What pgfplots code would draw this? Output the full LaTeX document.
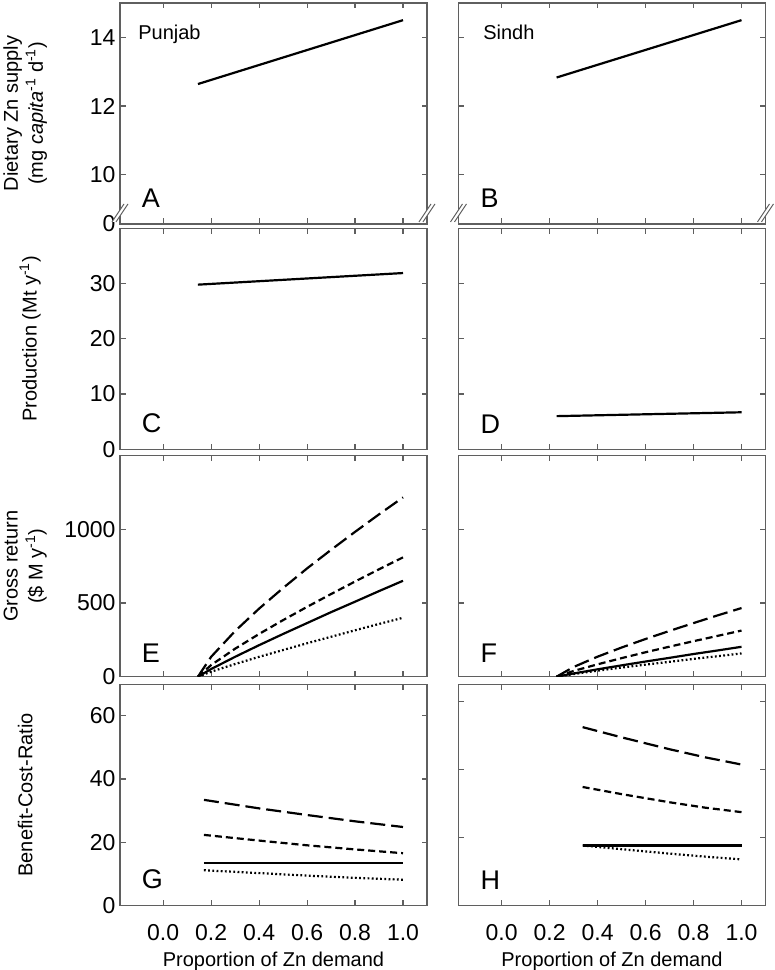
\documentclass[border=0pt]{standalone}
\usepackage{fontspec}
\setmainfont{Liberation Sans}
\usepackage{pgfplots}
\pgfplotsset{compat=1.18}
\definecolor{axgray}{RGB}{95,95,95}
\newcommand{\fs}{\fontsize{20}{25}\selectfont}
\newcommand{\ft}{\fontsize{23}{26}\selectfont}
\newcommand{\fL}{\fontsize{27}{30}\selectfont}
\tikzset{plet/.style={anchor=south west, inner sep=0pt, font=\fL}}
\pgfplotsset{
  panel/.style={
    scale only axis, width=307pt, height=221pt,
    xmin=-0.18, xmax=1.1,
    xtick={0,0.2,0.4,0.6,0.8,1}, xticklabels={},
    tick align=inside, tick pos=both, major tick length=5.5pt,
    axis line style={axgray, line width=1.1pt},
    every tick/.style={axgray, line width=1.1pt},
    tick label style={font=\ft},
    /pgf/number format/assume math mode=true,
    /pgf/number format/1000 sep={},
    every axis y label/.style={rotate=90, anchor=center, align=center, font=\fs},
    every axis x label/.style={at={(axis description cs:0.5,0)}, anchor=north, yshift=-43pt, font=\fs},
    xticklabel style={yshift=-16pt},
    yticklabel style={xshift=-1pt},
  },
  sl/.style={black, line width=2.2pt, solid},
  ld/.style={black, line width=2.2pt, dash pattern=on 15pt off 6pt},
  md/.style={black, line width=2.2pt, dash pattern=on 7pt off 4pt},
  dt/.style={black, line width=2.2pt, dash pattern=on 1.8pt off 2.4pt},
}
\begin{document}
\begin{tikzpicture}
\useasboundingbox (0,0) rectangle (775pt,970pt);
% ---------- A ----------
\begin{axis}[panel, at={(120pt,746pt)}, anchor=south west,
  ymin=8.564, ymax=15, ytick={10,12,14},
  extra y ticks={8.564}, extra y tick labels={0}, extra y tick style={major tick length=0pt},
  ylabel={Dietary Zn supply\\(mg \textit{capita}\textsuperscript{-1} d\textsuperscript{-1})},
  ylabel style={at={(axis description cs:-0.309,0.5)}}]
\addplot[sl] coordinates {(0.145,12.64) (1.0,14.5)};
\node[plet] at (rel axis cs:0.071,0.072) {A};
\node[anchor=base west, inner sep=0pt, font=\fs] at (rel axis cs:0.059,0.837) {Punjab};
\coordinate (Abl) at (rel axis cs:0,0.05);
\coordinate (Abr) at (rel axis cs:1,0.05);
\end{axis}
% ---------- B ----------
\begin{axis}[panel, at={(458.5pt,746pt)}, anchor=south west,
  ymin=8.564, ymax=15, ytick={10,12,14}, yticklabels={}]
\addplot[sl] coordinates {(0.229,12.83) (1.0,14.5)};
\node[plet] at (rel axis cs:0.071,0.072) {B};
\node[anchor=base west, inner sep=0pt, font=\fs] at (rel axis cs:0.080,0.837) {Sindh};
\coordinate (Bbl) at (rel axis cs:0,0.05);
\coordinate (Bbr) at (rel axis cs:1,0.05);
\end{axis}
% ---------- C ----------
\begin{axis}[panel, at={(120pt,520.7pt)}, anchor=south west,
  ymin=0, ymax=40, ytick={0,10,20,30},
  ylabel={Production (Mt y\textsuperscript{-1})},
  ylabel style={at={(axis description cs:-0.293,0.5)}}]
\addplot[sl] coordinates {(0.145,29.8) (1.0,31.9)};
\node[plet] at (rel axis cs:0.071,0.072) {C};
\end{axis}
% ---------- D ----------
\begin{axis}[panel, at={(458.5pt,520.7pt)}, anchor=south west,
  ymin=0, ymax=40, ytick={0,10,20,30}, yticklabels={}]
\addplot[sl] coordinates {(0.229,6.0) (1.0,6.7)};
\node[plet] at (rel axis cs:0.071,0.072) {D};
\end{axis}
% ---------- E ----------
\begin{axis}[panel, at={(120pt,293.3pt)}, anchor=south west,
  ymin=0, ymax=1500, ytick={0,500,1000},
  ylabel={Gross return\\(\$ M y\textsuperscript{-1})},
  ylabel style={at={(axis description cs:-0.309,0.5)}}]
\addplot[ld] coordinates {(0.145,0) (0.2,135) (0.3,310) (0.4,462) (0.5,602) (0.6,735) (0.7,861) (0.8,983) (0.9,1102) (1.0,1217)};
\addplot[md] coordinates {(0.145,0) (0.2,79) (0.3,190) (0.4,290) (0.5,384) (0.6,474) (0.7,561) (0.8,646) (0.9,729) (1.0,810)};
\addplot[sl] coordinates {(0.145,0) (0.2,52) (0.3,135) (0.4,214) (0.5,290) (0.6,364) (0.7,438) (0.8,509) (0.9,581) (1.0,651)};
\addplot[dt] coordinates {(0.145,0) (0.2,34) (0.3,86) (0.4,135) (0.5,181) (0.6,227) (0.7,271) (0.8,315) (0.9,358) (1.0,400)};
\node[plet] at (rel axis cs:0.071,0.062) {E};
\end{axis}
% ---------- F ----------
\begin{axis}[panel, at={(458.5pt,293.3pt)}, anchor=south west,
  ymin=0, ymax=1500, ytick={0,500,1000}, yticklabels={}]
\addplot[ld] coordinates {(0.229,0) (0.3,66) (0.4,136) (0.5,198) (0.6,256) (0.7,311) (0.8,364) (0.9,416) (1.0,466)};
\addplot[md] coordinates {(0.229,0) (0.3,39) (0.4,84) (0.5,126) (0.6,166) (0.7,204) (0.8,241) (0.9,277) (1.0,313)};
\addplot[sl] coordinates {(0.229,0) (0.3,22) (0.4,50) (0.5,77) (0.6,103) (0.7,128) (0.8,154) (0.9,178) (1.0,203)};
\addplot[dt] coordinates {(0.229,0) (0.3,18) (0.4,41) (0.5,62) (0.6,82) (0.7,101) (0.8,121) (0.9,139) (1.0,158)};
\node[plet] at (rel axis cs:0.071,0.062) {F};
\end{axis}
% ---------- G ----------
\begin{axis}[panel, at={(120pt,64.7pt)}, anchor=south west,
  ymin=0, ymax=70, ytick={0,20,40,60},
  xticklabels={0.0,0.2,0.4,0.6,0.8,1.0},
  xlabel={Proportion of Zn demand},
  ylabel={Benefit-Cost-Ratio},
  ylabel style={at={(axis description cs:-0.309,0.5)}}]
\addplot[ld] coordinates {(0.17,33.4) (0.4,30.7) (0.6,28.6) (0.8,26.6) (1.0,24.8)};
\addplot[md] coordinates {(0.17,22.3) (0.4,20.5) (0.6,19.0) (0.8,17.7) (1.0,16.5)};
\addplot[sl] coordinates {(0.17,13.3) (1.0,13.3)};
\addplot[dt] coordinates {(0.17,11.1) (0.4,10.2) (0.6,9.4) (0.8,8.7) (1.0,8.1)};
\node[plet] at (rel axis cs:0.071,0.072) {G};
\end{axis}
% ---------- H ----------
\begin{axis}[panel, at={(458.5pt,64.7pt)}, anchor=south west,
  ymin=0, ymax=65, ytick={20,40,60}, yticklabels={},
  xticklabels={0.0,0.2,0.4,0.6,0.8,1.0},
  xlabel={Proportion of Zn demand}]
\addplot[ld] coordinates {(0.3375,52.4) (0.5,49.4) (0.7,45.9) (0.85,43.5) (1.0,41.4)};
\addplot[md] coordinates {(0.3375,34.8) (0.5,32.7) (0.7,30.3) (0.85,28.7) (1.0,27.4)};
\addplot[sl] coordinates {(0.3375,17.6) (1.0,17.6)};
\addplot[dt] coordinates {(0.3375,17.6) (0.5,16.5) (0.7,15.2) (0.85,14.3) (1.0,13.5)};
\node[plet] at (rel axis cs:0.071,0.072) {H};
\end{axis}
% ---------- axis breaks ----------
\foreach \p in {Abl,Abr,Bbl,Bbr} {
  \fill[white] ([shift={(-8pt,-9pt)}]\p) -- ([shift={(-4pt,-9pt)}]\p) -- ([shift={(8pt,9pt)}]\p) -- ([shift={(4pt,9pt)}]\p) -- cycle;
  \draw[axgray, line width=1pt] ([shift={(-8pt,-9pt)}]\p) -- ([shift={(4pt,9pt)}]\p);
  \draw[axgray, line width=1pt] ([shift={(-4pt,-9pt)}]\p) -- ([shift={(8pt,9pt)}]\p);
}
\end{tikzpicture}
\end{document}
